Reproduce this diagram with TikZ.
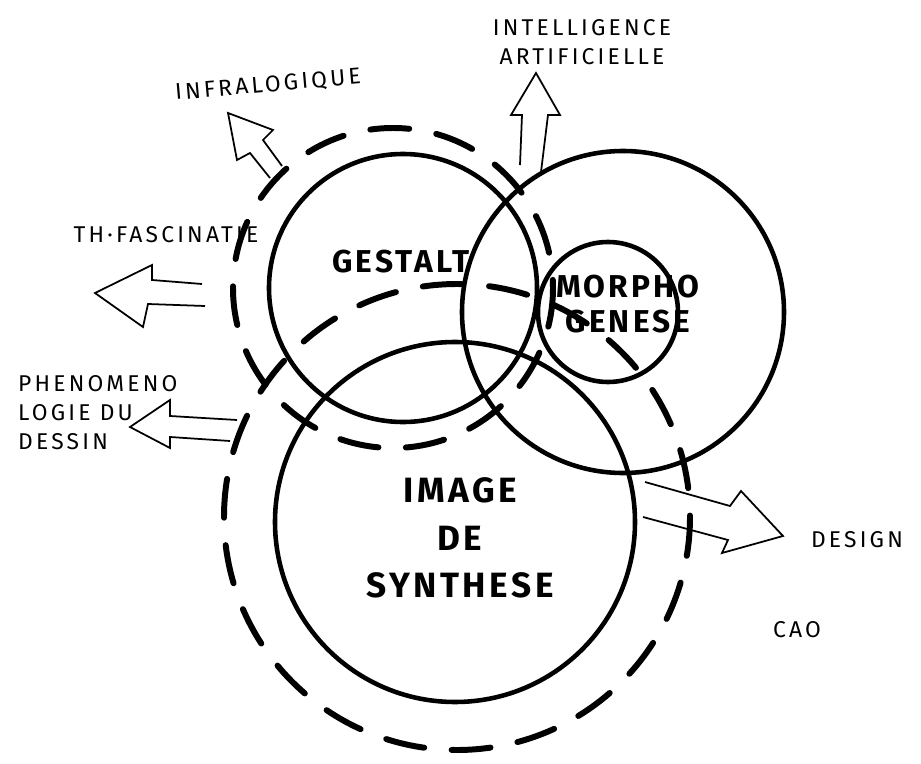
\documentclass[tikz,border=0pt]{standalone}
\usepackage{fontspec}
\setmainfont{Fira Sans}
\newfontfamily\handfont[LetterSpace=14]{Fira Sans}
\newfontfamily\inkfont[LetterSpace=10]{Fira Sans}
\begin{document}
\begin{tikzpicture}[x=0.02cm,y=-0.02cm,
		ring/.style={line width=2.6pt},
		dashring/.style={line width=3.4pt,line cap=round,dash pattern=on 0.78cm off 0.55cm},
		hollow/.style={line width=1pt,line join=miter},
		small/.style={font=\handfont\fontsize{13}{16.5}\selectfont},
		big/.style={font=\inkfont\bfseries\fontsize{18}{19}\selectfont,align=center}]
			\useasboundingbox (0,0) rectangle (921,764);
			\fill[white] (0,0) rectangle (921,764);
			\coordinate (gestaltc) at (403,288);
			\coordinate (morphoc) at (623,312);
			\coordinate (genesec) at (608,312);
			\coordinate (imagec) at (455,522);
			\draw[dashring] (393,288) circle (160);
			\draw[dashring] (457,517) circle (233);
			\draw[ring] (gestaltc) circle (134);
			\draw[ring] (morphoc) circle (161);
			\draw[ring] (genesec) circle (70);
			\draw[ring] (imagec) circle (180);
			\draw[hollow] (282,166) -- (263,140) -- (273,130) -- (228,113) -- (237,160) -- (250,153) -- (270,178);
			\draw[hollow] (202,284) -- (152,280) -- (152,265) -- (95,293) -- (143,327) -- (148,304) -- (205,306);
			\draw[hollow] (237,420) -- (170,416) -- (170,400) -- (130,427) -- (170,448) -- (170,437) -- (230,441);
			\draw[hollow] (520,165) -- (522,115) -- (511,115) -- (536,73) -- (560,115) -- (548,115) -- (541,172);
			\draw[hollow] (645,482) -- (730,506) -- (741,491) -- (783,536) -- (722,553) -- (728,540) -- (643,517);
			\node[small,rotate=5] (infra) at (268,85) {INFRALOGIQUE};
			\node[small,align=center] (intel) at (582,42) {INTELLIGENCE\\ARTIFICIELLE};
			\node[small] (fascin) at (166,235) {TH·FASCINATIE};
			\node[small,align=left,anchor=west] (pheno) at (12,413) {PHENOMENO\\LOGIE DU\\DESSIN};
			\node[small] (design) at (857,540) {DESIGN};
			\node[small] (cao) at (797,630) {CAO};
			\node[big] (gestalt) at (401,262) {GESTALT};
			\node[big,font=\inkfont\bfseries\fontsize{18}{20}\selectfont] (morpho) at (628,304) {MORPHO\\GENESE};
			\node[big,font=\inkfont\bfseries\fontsize{20}{27}\selectfont] (image) at (460,538) {IMAGE\\DE\\SYNTHESE};
		\end{tikzpicture}
\end{document}
